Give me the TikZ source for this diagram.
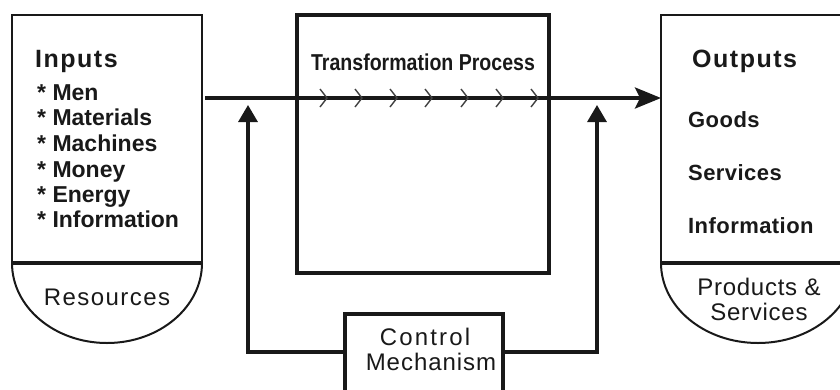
\documentclass[tikz,border=0pt]{standalone}
\usepackage{fontspec}
\usepackage{graphicx}
\setmainfont{Liberation Sans}
\usetikzlibrary{arrows.meta}
\begin{document}
\begin{tikzpicture}[x=1pt,y=-1pt,
  ink/.style={draw=black!90},
  sidebox/.style={ink, rectangle, outer sep=0pt, inner sep=0pt},
  procbox/.style={ink, rectangle, line width=3.5pt, outer sep=0pt, inner sep=0pt},
  divider/.style={ink, line width=4.5pt},
  bowl/.style={ink, line width=2pt},
  flow/.style={ink, line width=3.5pt},
  feedback/.style={ink, line width=3.2pt, line join=miter, -{Triangle[length=17pt,width=19pt]}},
  chev/.style={draw=black!75, line width=1.4pt},
  head/.style={inner sep=0pt, anchor=base west, text=black!90,
    font=\fontsize{25}{30}\selectfont\bfseries\addfontfeatures{LetterSpace=6}},
  item/.style={inner sep=0pt, anchor=base west, text=black!90,
    font=\fontsize{23}{26}\selectfont\bfseries},
  outitem/.style={inner sep=0pt, anchor=base west, text=black!90,
    font=\fontsize{22}{26}\selectfont\bfseries\addfontfeatures{LetterSpace=2}},
  plain/.style={inner sep=0pt, anchor=base, text=black!90,
    font=\fontsize{24}{28}\selectfont\addfontfeatures{LetterSpace=#1}},
  plain/.default=5
]
\useasboundingbox (0,0) rectangle (840,389);
\clip (0,0) rectangle (840,389);

% Resource side
\node[sidebox, line width=2pt, minimum width=190pt, minimum height=248pt] (inbox) at (107,139) {};
\draw[bowl] (inbox.south west) arc[start angle=180, end angle=360, x radius=95pt, y radius=80pt];
\draw[divider] (inbox.south west) -- (inbox.south east);
\node[head] (inhead) at (35,67) {Inputs};
\foreach \txt/\yb [count=\i] in {Men/100, Materials/125, Machines/151, Money/177, Energy/202, Information/227}
  \node[item] (in\i) at (37,\yb) {* \txt};
\node[plain=6] (res) at (107,305) {Resources};

% Transformation
\node[procbox, minimum width=252pt, minimum height=258pt] (proc) at (423,144) {};
\node[inner sep=0pt, anchor=base, text=black!90,
  font=\fontsize{23}{26}\selectfont\bfseries] (proctitle) at (423,70)
  {\scalebox{0.85}[1]{Transformation Process}};

% Output side
\node[sidebox, line width=2.6pt, minimum width=194pt, minimum height=248pt] (outbox) at (758,139) {};
\draw[bowl] (outbox.south west) arc[start angle=180, end angle=360, x radius=97pt, y radius=80pt];
\draw[divider] (outbox.south west) -- (outbox.south east);
\node[head] (outhead) at (692,67) {Outputs};
\node[outitem] (goods) at (688,127) {Goods};
\node[outitem] (serv) at (688,180) {Services};
\node[outitem] (info) at (688,233) {Information};
\node[plain=3] (prod1) at (759,295) {Products \&};
\node[plain=3] (prod2) at (759,320) {Services};

% Control
\node[procbox, minimum width=158pt, minimum height=90pt] (ctrl) at (424,359) {};
\node[plain=9] (ctrl1) at (425,345) {Control};
\node[plain=4] (ctrl2) at (431,370) {Mechanism};

% Main flow
\coordinate (src) at (205,98);
\coordinate (dst) at (outbox.west |- src);
\draw[flow, -{Stealth[length=26pt,width=21pt,inset=5pt]}] (src) -- (dst);
\foreach \t in {327,362,397,432,468,503,538}
  \draw[chev] (\t-7,89) -- (\t,98) -- (\t-7,107);

% Feedback loop
\coordinate (fbrow) at (0,352);
\coordinate (upL) at (248,105);
\coordinate (upR) at (597,105);
\draw[feedback] (ctrl.west |- fbrow) -| (upL);
\draw[feedback] (ctrl.east |- fbrow) -| (upR);
\end{tikzpicture}
\end{document}
